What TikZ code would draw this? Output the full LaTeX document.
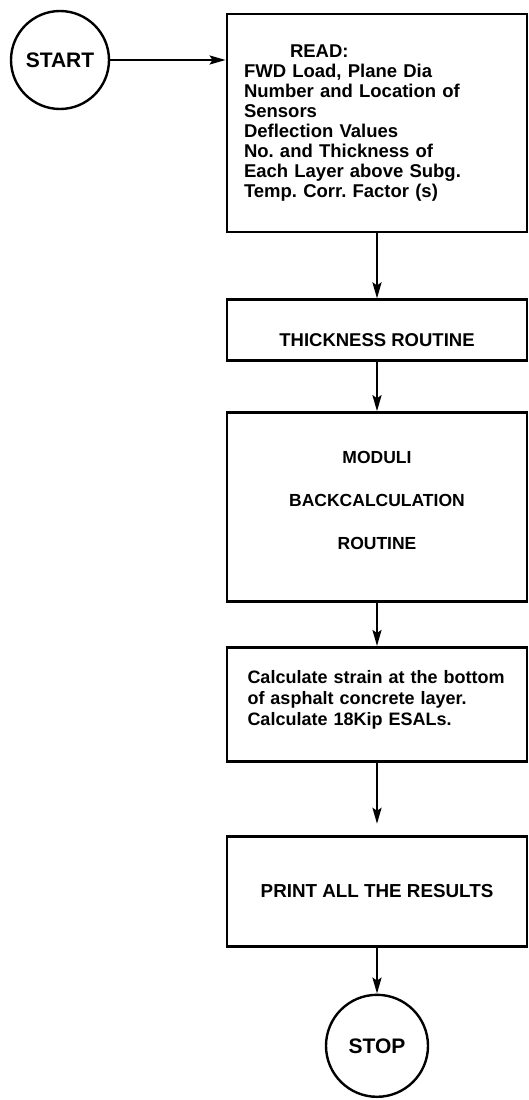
\documentclass[tikz,border=0pt]{standalone}
\usepackage{fontspec}
\setmainfont{Liberation Sans}
\usepackage{tikz}
\usetikzlibrary{arrows.meta}
\usetikzlibrary{positioning}

\tikzset{
    box/.style={draw, rectangle, line width=2.8pt, minimum width=300pt, inner sep=0pt,
        font=\bfseries\fontsize{18.5}{20}\selectfont},
    term/.style={draw, circle, line width=2.4pt, inner sep=0pt,
        font=\bfseries\fontsize{21}{24}\selectfont},
    flow/.style={line width=2.4pt, -{Stealth[length=16pt, width=9pt, inset=3pt]}}
}

\begin{document}
\frenchspacing
\begin{tikzpicture}[x=1pt, y=-1pt]
    \useasboundingbox (0,0) rectangle (528,1100);

    \node [term, minimum size=98pt] (start) at (60,60) {START}; % start circle
    \node [box, minimum height=218pt, text width=266pt, inner xsep=17pt, align=left] (read) at (377,123)
        {\hspace*{46pt}READ:\\
         FWD Load, Plane Dia\\
         Number and Location of\\
         Sensors\\
         Deflection Values\\
         No. and Thickness of\\
         Each Layer above Subg.\\
         Temp. Corr. Factor (s)};
    \node [box, minimum height=61pt, text height=33pt, below=65pt of read] (thick) {THICKNESS ROUTINE};
    \node [box, minimum height=189pt, align=center, text depth=14pt,
        font=\bfseries\fontsize{17.5}{43}\selectfont,
        below=49pt of thick] (moduli) {MODULI\\BACKCALCULATION\\ROUTINE};
    \node [box, minimum height=114pt, text width=259pt, inner xsep=20pt, align=left, text depth=54pt,
        font=\bfseries\fontsize{18}{21}\selectfont, below=43pt of moduli] (strain)
        {Calculate strain at the bottom\\
         of asphalt concrete layer.\\
         Calculate 18Kip ESALs.};
    \node [box, minimum height=110pt, font=\bfseries\fontsize{18.8}{22}\selectfont,
        below=72pt of strain] (print) {PRINT ALL THE RESULTS};
    \node [term, minimum size=102pt, below=46pt of print] (stop) {STOP}; % stop circle

    \draw [flow] (start.east) -- (start.east -| read.west);
    \draw [flow] (read) -- (thick);
    \draw [flow] (thick) -- (moduli);
    \draw [flow] (moduli) -- (strain);
    \draw [flow, shorten >=11pt] (strain) -- (print);
    \draw [flow] (print) -- (stop);
\end{tikzpicture}
\end{document}
